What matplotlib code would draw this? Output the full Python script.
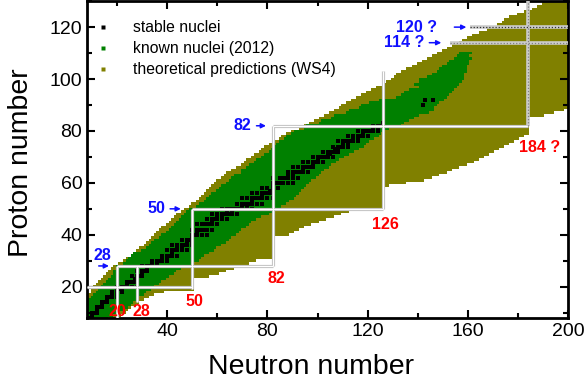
import matplotlib
matplotlib.use("Agg")
import matplotlib.pyplot as plt
from matplotlib.lines import Line2D
import numpy as np

plt.rcParams['font.family'] = ['Liberation Sans', 'DejaVu Sans']

# theoretical predictions (WS4): proton number and N range per row
z_th = list(range(8, 131))
nmin_th = [3, 4, 5, 6, 6, 7, 8, 8, 9, 9, 10, 10, 11, 12, 13, 14, 15, 16, 17, 18,
           19, 21, 23, 24, 26, 27, 28, 29, 31, 32, 33, 34, 35, 36, 37, 38, 40, 41, 42, 43,
           44, 46, 47, 49, 50, 52, 53, 54, 55, 56, 57, 58, 59, 60, 62, 63, 64, 66, 68, 70,
           71, 72, 74, 75, 77, 78, 79, 81, 83, 85, 86, 88, 90, 93, 95, 97, 99, 101, 103, 105,
           107, 109, 110, 112, 114, 116, 118, 120, 122, 124, 127, 128, 130, 131, 132, 134, 136, 138, 140, 142,
           144, 146, 148, 150, 152, 154, 157, 158, 160, 162, 165, 168, 170, 172, 174, 175, 177, 180, 183, 186,
           188, 190, 192]
nmax_th = [19, 21, 23, 24, 25, 27, 28, 30, 32, 34, 38, 50, 50, 50, 50, 50, 56, 60, 63, 66,
           69, 72, 75, 82, 82, 82, 82, 82, 82, 82, 82, 82, 88, 90, 92, 94, 97, 100, 103, 106,
           109, 112, 115, 126, 126, 126, 126, 126, 126, 126, 126, 128, 135, 142, 145, 148, 151, 153, 156, 159,
           162, 164, 166, 168, 170, 172, 174, 176, 178, 180, 182, 184, 184, 184, 184, 184, 184, 184, 190, 194,
           198, 210, 210, 210, 210, 210, 210, 210, 210, 210, 210, 210, 210, 210, 210, 210, 210, 210, 210, 210,
           210, 210, 210, 210, 210, 210, 210, 210, 210, 210, 210, 210, 210, 210, 210, 210, 210, 210, 210, 210,
           210, 210, 210]

# known nuclei (2012)
z_kn = list(range(8, 111))
nmin_kn = [4, 5, 6, 7, 7, 8, 8, 9, 10, 11, 12, 13, 14, 15, 16, 17, 18, 19, 19, 20,
           20, 23, 24, 25, 26, 27, 30, 32, 33, 34, 35, 37, 38, 40, 41, 42, 43, 44, 45, 46,
           47, 48, 49, 52, 53, 55, 56, 57, 58, 60, 61, 62, 64, 65, 66, 67, 70, 70, 72, 73,
           75, 76, 78, 79, 81, 82, 83, 84, 85, 87, 88, 90, 91, 95, 96, 101, 102, 106, 107, 112,
           113, 117, 118, 121, 125, 132, 134, 135, 137, 141, 139, 141, 141, 144, 146, 148, 149, 150, 152, 153,
           155, 156, 157]
nmax_kn = [16, 18, 20, 22, 24, 25, 26, 27, 28, 30, 31, 33, 34, 36, 37, 39, 40, 42, 43, 45,
           47, 49, 52, 53, 54, 56, 58, 59, 61, 63, 64, 65, 67, 68, 69, 71, 72, 73, 75, 77,
           80, 82, 84, 85, 87, 88, 90, 91, 92, 93, 94, 95, 96, 97, 99, 100, 101, 102, 104, 105,
           107, 108, 110, 112, 114, 116, 118, 119, 120, 122, 124, 125, 126, 128, 133, 134, 136, 138, 140, 144,
           146, 146, 147, 148, 150, 151, 152, 153, 154, 155, 156, 157, 158, 158, 158, 159, 159, 159, 160, 160,
           161, 160, 161]

# stable nuclei: (N, Z)
stable_z = [8, 8, 8, 9, 10, 10, 10, 11, 12, 12, 12, 13, 14, 14, 14, 15, 16, 16, 16, 16,
            17, 17, 18, 18, 18, 19, 19, 19, 20, 20, 20, 20, 20, 20, 21, 22, 22, 22, 22, 22,
            23, 23, 24, 24, 24, 24, 25, 26, 26, 26, 26, 27, 28, 28, 28, 28, 28, 29, 29, 30,
            30, 30, 30, 30, 31, 31, 32, 32, 32, 32, 32, 33, 34, 34, 34, 34, 34, 34, 35, 35,
            36, 36, 36, 36, 36, 36, 37, 37, 38, 38, 38, 38, 39, 40, 40, 40, 40, 40, 41, 42,
            42, 42, 42, 42, 42, 42, 44, 44, 44, 44, 44, 44, 44, 45, 46, 46, 46, 46, 46, 46,
            47, 47, 48, 48, 48, 48, 48, 48, 48, 48, 49, 49, 50, 50, 50, 50, 50, 50, 50, 50,
            50, 50, 51, 51, 52, 52, 52, 52, 52, 52, 52, 52, 53, 54, 54, 54, 54, 54, 54, 54,
            54, 54, 55, 56, 56, 56, 56, 56, 56, 56, 57, 57, 58, 58, 58, 58, 59, 60, 60, 60,
            60, 60, 60, 60, 62, 62, 62, 62, 62, 62, 62, 63, 63, 64, 64, 64, 64, 64, 64, 64,
            65, 66, 66, 66, 66, 66, 66, 66, 67, 68, 68, 68, 68, 68, 68, 69, 70, 70, 70, 70,
            70, 70, 70, 71, 71, 72, 72, 72, 72, 72, 72, 73, 73, 74, 74, 74, 74, 74, 75, 75,
            76, 76, 76, 76, 76, 76, 76, 77, 77, 78, 78, 78, 78, 78, 78, 79, 80, 80, 80, 80,
            80, 80, 80, 81, 81, 82, 82, 82, 82, 83, 90, 92, 92]
stable_n = [8, 9, 10, 10, 10, 11, 12, 12, 12, 13, 14, 14, 14, 15, 16, 16, 16, 17, 18, 20,
            18, 20, 18, 20, 22, 20, 21, 22, 20, 22, 23, 24, 26, 28, 24, 24, 25, 26, 27, 28,
            27, 28, 26, 28, 29, 30, 30, 28, 30, 31, 32, 32, 30, 32, 33, 34, 36, 34, 36, 34,
            36, 37, 38, 40, 38, 40, 38, 40, 41, 42, 44, 42, 40, 42, 43, 44, 46, 48, 44, 46,
            42, 44, 46, 47, 48, 50, 48, 50, 46, 48, 49, 50, 50, 50, 51, 52, 54, 56, 52, 50,
            52, 53, 54, 55, 56, 58, 52, 54, 55, 56, 57, 58, 60, 58, 56, 58, 59, 60, 62, 64,
            60, 62, 58, 60, 62, 63, 64, 65, 66, 68, 64, 66, 62, 64, 65, 66, 67, 68, 69, 70,
            72, 74, 70, 72, 68, 70, 71, 72, 73, 74, 76, 78, 74, 70, 72, 74, 75, 76, 77, 78,
            80, 82, 78, 74, 76, 78, 79, 80, 81, 82, 81, 82, 78, 80, 82, 84, 82, 82, 83, 84,
            85, 86, 88, 90, 82, 85, 86, 87, 88, 90, 92, 88, 90, 88, 90, 91, 92, 93, 94, 96,
            94, 90, 92, 94, 95, 96, 97, 98, 98, 94, 96, 98, 99, 100, 102, 100, 98, 100, 101, 102,
            103, 104, 106, 104, 105, 102, 104, 105, 106, 107, 108, 107, 108, 106, 108, 109, 110, 112, 110, 112,
            108, 110, 111, 112, 113, 114, 116, 114, 116, 112, 114, 116, 117, 118, 120, 118, 116, 118, 119, 120,
            121, 122, 124, 122, 124, 122, 124, 125, 126, 126, 142, 143, 146]

# magic-number guide lines
h_lines = [(20, 8, 50), (28, 20, 82), (50, 50, 126), (82, 82, 184)]
v_lines = [(20, 8, 28), (28, 14, 28), (50, 19, 50), (82, 28, 82), (126, 50, 103)]
h_dotted = [(114, 153, 200), (120, 161, 200)]
v_dotted = [(184, 82, 130)]

fig = plt.figure(figsize=(5.85, 3.9), dpi=100)
ax = fig.add_axes([0.149, 0.185, 0.822, 0.812])

z_th = np.array(z_th)
ax.barh(z_th, np.array(nmax_th) - np.array(nmin_th) + 1, left=np.array(nmin_th) - 0.5,
        height=1.0, color='#808000', linewidth=0)
z_kn = np.array(z_kn)
ax.barh(z_kn, np.array(nmax_kn) - np.array(nmin_kn) + 1, left=np.array(nmin_kn) - 0.5,
        height=1.0, color='#008000', linewidth=0)
ax.scatter(stable_n, stable_z, marker='s', s=8, color='black', linewidths=0, zorder=3)

for z, n0, n1 in h_lines:
    ax.plot([n0, n1], [z, z], color='#c4c4c4', lw=2.3, zorder=4, solid_capstyle='butt')
    ax.plot([n0, n1], [z, z], color='white', lw=0.8, zorder=5, solid_capstyle='butt')
for n, z0, z1 in v_lines:
    ax.plot([n, n], [z0, z1], color='#c4c4c4', lw=2.3, zorder=4, solid_capstyle='butt')
    ax.plot([n, n], [z0, z1], color='white', lw=0.8, zorder=5, solid_capstyle='butt')
for z, n0, n1 in h_dotted:
    ax.plot([n0, n1], [z, z], color='#cccccc', lw=2.6, zorder=4, solid_capstyle='butt')
    ax.plot([n0, n1], [z, z], color='#333333' if z == 120 else '#808080', lw=0.9,
            ls=(0, (1, 1.5)), zorder=5)
for n, z0, z1 in v_dotted:
    ax.plot([n, n], [z0, z1], color='#cccccc', lw=2.6, zorder=4, solid_capstyle='butt')
    ax.plot([n, n], [z0, z1], color='#808080', lw=0.9, ls=(0, (1, 1.5)), zorder=5)

# magic-number labels
blue = '#1010ff'
red = '#ff0000'
lab_kw = dict(fontsize=11.5, fontweight='bold', zorder=6)
ax.text(14, 32, '28', color=blue, ha='center', va='center', **lab_kw)
ax.annotate('', xy=(17.8, 28), xytext=(11.5, 28),
            arrowprops=dict(arrowstyle='-|>', color=blue, lw=1.1, mutation_scale=7), zorder=6)
for z, txt, xt, x0, x1 in [(50, '50', 35.5, 40, 46.5), (82, '82', 70, 74.5, 80.5),
                           (114, '114 ?', 134.5, 143.5, 150.5), (120, '120 ?', 139.5, 153.5, 160.5)]:
    ax.text(xt, z, txt, color=blue, ha='center', va='center', **lab_kw)
    ax.annotate('', xy=(x1, z), xytext=(x0, z),
                arrowprops=dict(arrowstyle='-|>', color=blue, lw=1.1, mutation_scale=7), zorder=6)

for n, z, txt in [(20, 10.4, '20'), (29.5, 10.4, '28'), (50.8, 14.3, '50'), (83.5, 23.3, '82'),
                  (127, 43.8, '126'), (188.5, 73.6, '184 ?')]:
    ax.text(n, z, txt, color=red, ha='center', va='center', **lab_kw)

handles = [Line2D([], [], ls='none', marker='s', ms=3.5, mec='none', mfc=c) for c in ['black', '#008000', '#808000']]
ax.legend(handles, ['stable nuclei', 'known nuclei (2012)', 'theoretical predictions (WS4)'],
          loc='upper left', bbox_to_anchor=(-0.01, 0.975), frameon=False, fontsize=11.3,
          handletextpad=1.3, labelspacing=0.38, handlelength=1.2, borderaxespad=0.3)

ax.set_xlim(8, 200)
ax.set_ylim(8, 130)
ax.set_xticks([40, 80, 120, 160, 200])
ax.set_xticks([20, 60, 100, 140, 180], minor=True)
ax.set_yticks([20, 40, 60, 80, 100, 120])
ax.set_yticks([10, 30, 50, 70, 90, 110, 130], minor=True)
ax.tick_params(which='both', direction='in', top=True, right=True, width=1.5, labelsize=14)
ax.tick_params(which='major', length=6)
ax.tick_params(which='minor', length=3.5)
for s in ax.spines.values():
    s.set_linewidth(2)
ax.set_xlabel('Neutron number', fontsize=20.5)
ax.set_ylabel('Proton number', fontsize=20.5)
ax.xaxis.set_label_coords(0.466, -0.115)
ax.yaxis.set_label_coords(-0.11, 0.49)

fig.savefig('out.png', dpi=100)
